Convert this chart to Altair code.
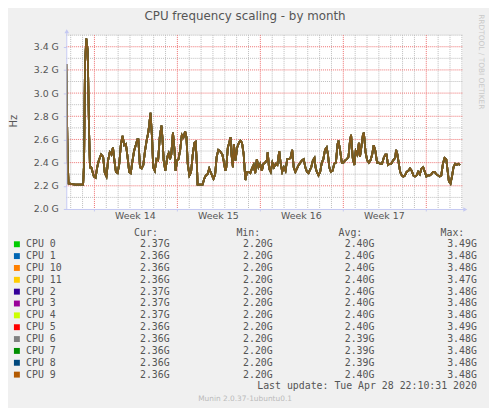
import altair as alt
import pandas as pd

# (day offset from left edge of graph, frequency in GHz)
readings = [
    (0.00, 3.25), (0.11, 2.45), (0.19, 2.22), (0.75, 2.21), (1.42, 2.21), (1.50, 2.39), (1.58, 3.25), (1.69, 3.47),
    (1.81, 3.36), (1.92, 2.68), (2.00, 2.36), (2.11, 2.36), (2.19, 2.33), (2.33, 2.28), (2.47, 2.27), (2.61, 2.36),
    (2.75, 2.42), (2.94, 2.47), (3.11, 2.45), (3.25, 2.31), (3.39, 2.28), (3.53, 2.42), (3.67, 2.49), (3.81, 2.47),
    (3.94, 2.53), (4.06, 2.42), (4.19, 2.32), (4.33, 2.31), (4.47, 2.39), (4.61, 2.56), (4.75, 2.63), (4.89, 2.55),
    (5.03, 2.56), (5.17, 2.45), (5.31, 2.32), (5.44, 2.31), (5.58, 2.41), (5.72, 2.50), (5.86, 2.55), (6.00, 2.60),
    (6.08, 2.60), (6.22, 2.36), (6.36, 2.35), (6.50, 2.38), (6.64, 2.50), (6.78, 2.59), (6.92, 2.66), (7.11, 2.83),
    (7.25, 2.59), (7.33, 2.36), (7.47, 2.33), (7.61, 2.43), (7.75, 2.42), (7.89, 2.62), (8.03, 2.72), (8.11, 2.62),
    (8.22, 2.42), (8.36, 2.33), (8.53, 2.45), (8.64, 2.48), (8.75, 2.43), (8.86, 2.47), (9.00, 2.66), (9.14, 2.50),
    (9.22, 2.33), (9.36, 2.42), (9.47, 2.43), (9.61, 2.51), (9.75, 2.64), (9.89, 2.62), (10.03, 2.67), (10.14, 2.62),
    (10.25, 2.39), (10.39, 2.29), (10.53, 2.32), (10.67, 2.47), (10.81, 2.57), (10.92, 2.58), (11.03, 2.36), (11.08, 2.21),
    (11.50, 2.21), (11.64, 2.26), (11.78, 2.29), (11.92, 2.30), (12.06, 2.35), (12.25, 2.30), (12.42, 2.26), (12.56, 2.30),
    (12.69, 2.45), (12.83, 2.51), (12.97, 2.50), (13.17, 2.47), (13.31, 2.40), (13.42, 2.33), (13.50, 2.36), (13.63, 2.53),
    (13.72, 2.56), (13.86, 2.62), (13.94, 2.47), (14.06, 2.36), (14.14, 2.56), (14.28, 2.42), (14.42, 2.53), (14.56, 2.57),
    (14.69, 2.59), (14.83, 2.57), (14.97, 2.47), (15.11, 2.25), (15.25, 2.32), (15.39, 2.32), (15.53, 2.31), (15.67, 2.35),
    (15.81, 2.38), (15.94, 2.31), (16.08, 2.43), (16.22, 2.36), (16.36, 2.39), (16.50, 2.33), (16.64, 2.39), (16.78, 2.40),
    (16.92, 2.42), (17.00, 2.49), (17.11, 2.35), (17.25, 2.32), (17.39, 2.40), (17.53, 2.36), (17.67, 2.39), (17.81, 2.38),
    (17.97, 2.50), (18.08, 2.40), (18.22, 2.32), (18.36, 2.36), (18.50, 2.33), (18.64, 2.43), (18.78, 2.43), (18.92, 2.44),
    (19.06, 2.51), (19.19, 2.36), (19.33, 2.32), (19.47, 2.35), (19.61, 2.38), (19.75, 2.40), (19.89, 2.42), (20.03, 2.43),
    (20.17, 2.36), (20.31, 2.32), (20.44, 2.31), (20.53, 2.33), (20.67, 2.36), (20.81, 2.42), (20.94, 2.44), (21.03, 2.36),
    (21.14, 2.32), (21.28, 2.29), (21.42, 2.32), (21.56, 2.40), (21.69, 2.43), (21.83, 2.51), (21.97, 2.53), (22.08, 2.47),
    (22.19, 2.36), (22.33, 2.32), (22.47, 2.33), (22.61, 2.39), (22.75, 2.40), (22.89, 2.56), (22.97, 2.59), (23.11, 2.50),
    (23.25, 2.40), (23.39, 2.40), (23.53, 2.42), (23.67, 2.43), (23.81, 2.45), (23.94, 2.59), (24.03, 2.64), (24.17, 2.44),
    (24.31, 2.38), (24.42, 2.50), (24.56, 2.47), (24.69, 2.57), (24.78, 2.45), (24.89, 2.53), (25.03, 2.64), (25.11, 2.66),
    (25.25, 2.49), (25.39, 2.42), (25.53, 2.40), (25.67, 2.42), (25.81, 2.47), (25.94, 2.55), (26.08, 2.50), (26.22, 2.40),
    (26.36, 2.40), (26.50, 2.39), (26.64, 2.39), (26.78, 2.44), (26.92, 2.47), (27.03, 2.47), (27.14, 2.38), (27.28, 2.39),
    (27.42, 2.39), (27.58, 2.42), (27.75, 2.44), (27.83, 2.51), (27.94, 2.47), (28.06, 2.39), (28.17, 2.32), (28.31, 2.29),
    (28.44, 2.28), (28.58, 2.29), (28.72, 2.32), (28.86, 2.33), (29.00, 2.35), (29.14, 2.33), (29.28, 2.29), (29.42, 2.28),
    (29.56, 2.29), (29.69, 2.32), (29.83, 2.30), (29.97, 2.35), (30.11, 2.36), (30.25, 2.32), (30.39, 2.28), (30.53, 2.29),
    (30.67, 2.29), (30.81, 2.30), (30.94, 2.32), (31.08, 2.32), (31.22, 2.30), (31.36, 2.29), (31.50, 2.28), (31.64, 2.29),
    (31.78, 2.39), (31.92, 2.44), (32.06, 2.43), (32.14, 2.36), (32.28, 2.24), (32.42, 2.22), (32.56, 2.29), (32.67, 2.36),
    (32.81, 2.39), (32.94, 2.38), (33.08, 2.39), (33.22, 2.38),
]

cpu_names = ["CPU 0", "CPU 1", "CPU 10", "CPU 11", "CPU 2", "CPU 3",
             "CPU 4", "CPU 5", "CPU 6", "CPU 7", "CPU 8", "CPU 9"]
cpu_colors = ["#00CC00", "#0066B3", "#FF8000", "#FFCC00", "#330099", "#990099",
              "#CCFF00", "#FF0000", "#808080", "#008F00", "#00487D", "#B35A00"]
cur_vals = ["2.37G", "2.36G", "2.36G", "2.36G", "2.37G", "2.37G",
            "2.37G", "2.36G", "2.36G", "2.36G", "2.36G", "2.36G"]
min_vals = ["2.20G"] * 12
avg_vals = ["2.40G", "2.40G", "2.40G", "2.40G", "2.40G", "2.40G",
            "2.40G", "2.40G", "2.39G", "2.39G", "2.39G", "2.40G"]
max_vals = ["3.49G", "3.48G", "3.48G", "3.47G", "3.48G", "3.48G",
            "3.48G", "3.49G", "3.48G", "3.48G", "3.48G", "3.48G"]

y_major = [2.0, 2.2, 2.4, 2.6, 2.8, 3.0, 3.2, 3.4]
y_minor = [2.1, 2.3, 2.5, 2.7, 2.9, 3.1, 3.3, 3.5]
week_lines = [7 * k + 7 / 3 for k in range(5)]
day_lines = [k + 1 / 3 for k in range(34) if (k - 2) % 7 != 0]
week_labels = ["Week 14", "Week 15", "Week 16", "Week 17"]
week_label_pos = [7 * k + 35 / 6 for k in range(4)]

title_text = "CPU frequency scaling - by month"
last_update = "Last update: Tue Apr 28 22:10:31 2020"
munin_ver = "Munin 2.0.37-1ubuntu0.1"
side_text = "RRDTOOL / TOBI OETIKER"

TXT = "#555555"
AXC = "#C4C8F2"
GRID_MINOR = "#BDBDBD"
GRID_MAJOR = "#EE7070"
xs = alt.Scale(domain=[0, 401 / 12], nice=False, zero=False)
ys = alt.Scale(domain=[2.0, 3.5], nice=False, zero=False)
X_AXIS = alt.Axis(values=week_lines, labels=False, title=None, grid=False, domain=False,
                  tickSize=2, tickColor=AXC)
Y_AXIS = alt.Axis(values=y_major, labelExpr="format(datum.value, '.1f') + ' G'", title=None,
                  grid=False, domain=False, tickSize=3, tickColor=AXC, labelPadding=5,
                  labelFont="DejaVu Sans", labelFontSize=9.5, labelColor=TXT)

def xenc(f):
    return alt.X(f, scale=xs, axis=X_AXIS)

def yenc(f):
    return alt.Y(f, scale=ys, axis=Y_AXIS)

vminor = alt.Chart(pd.DataFrame({"d": day_lines})).mark_rule(
    color=GRID_MINOR, strokeDash=[1, 1], strokeWidth=1, xOffset=0.5).encode(x=xenc("d:Q"))
hminor = alt.Chart(pd.DataFrame({"v": y_minor})).mark_rule(
    color=GRID_MINOR, strokeDash=[1, 1], strokeWidth=1).encode(y=yenc("v:Q"))
vmajor = alt.Chart(pd.DataFrame({"d": week_lines})).mark_rule(
    color=GRID_MAJOR, strokeDash=[1, 1], strokeWidth=1, xOffset=0.5).encode(x=xenc("d:Q"))
hmajor = alt.Chart(pd.DataFrame({"v": y_major[1:]})).mark_rule(
    color=GRID_MAJOR, strokeDash=[1, 1], strokeWidth=1).encode(y=yenc("v:Q"))

series = pd.DataFrame({"day": [r[0] for r in readings], "ghz": [r[1] for r in readings]})
lines = [
    alt.Chart(series).mark_line(color=c, strokeWidth=1.8, strokeOpacity=0.7, clip=True).encode(
        x=xenc("day:Q"), y=yenc("ghz:Q"))
    for c in cpu_colors
]

yaxis_line = alt.Chart().mark_rule(color=AXC).encode(
    x=alt.value(0.5), y=alt.value(-4), y2=alt.value(176))
xaxis_line = alt.Chart().mark_rule(color=AXC).encode(
    x=alt.value(-2), x2=alt.value(404), y=alt.value(176.5))
yarrow = alt.Chart().mark_point(shape="triangle-up", filled=True, color=AXC, size=22, opacity=1).encode(
    x=alt.value(0.5), y=alt.value(-4))
xarrow = alt.Chart().mark_point(shape="triangle-right", filled=True, color=AXC, size=22, opacity=1).encode(
    x=alt.value(404), y=alt.value(176.5))

weeks = alt.Chart(pd.DataFrame({"d": week_label_pos, "t": week_labels})).mark_text(
    font="DejaVu Sans", fontSize=9.5, color=TXT, baseline="middle", align="center").encode(
    x=xenc("d:Q"), y=alt.value(183), text="t:N")

def label(text, x, y, **kw):
    return alt.Chart().mark_text(text=text, **kw).encode(x=alt.value(x), y=alt.value(y))

title = label(title_text, 181, -19, font="DejaVu Sans", fontSize=12, color=TXT, align="center", baseline="middle")
hz = label("Hz", -53, 87, font="DejaVu Sans", fontSize=10, color=TXT, align="center", baseline="middle", angle=270)
side = label(side_text, 420, 27, font="DejaVu Sans", fontSize=7.5, color="#C8C8C8", align="center", baseline="middle", angle=90)

MONO = dict(font="DejaVu Sans Mono", fontSize=10, color=TXT, baseline="middle")
headers = [
    label("Cur:", 92.7, 200.3, align="right", **MONO),
    label("Min:", 196.3, 200.3, align="right", **MONO),
    label("Avg:", 299.7, 200.3, align="right", **MONO),
    label("Max:", 403, 200.3, align="right", **MONO),
]
upd = label(last_update, 415.7, 355.3, align="right", **MONO)
ver = label(munin_ver, 181, 368.7, font="DejaVu Sans", fontSize=7.5, color="#BBBBBB", align="center", baseline="middle")

main = alt.layer(vminor, hminor, vmajor, hmajor, *lines, yaxis_line, xaxis_line, yarrow, xarrow,
                 weeks, title, hz, side, *headers, upd, ver)

leg_df = pd.DataFrame({"row": list(range(12)), "name": cpu_names, "cur": cur_vals,
                       "min": min_vals, "avg": avg_vals, "max": max_vals})
rowy = alt.Y("row:Q", scale=alt.Scale(domain=[0, 11], range=[211.7, 343.7]), axis=None)
leg_base = alt.Chart(leg_df)
squares = leg_base.mark_square(size=36, filled=True, opacity=1).encode(
    x=alt.value(-50), y=rowy,
    color=alt.Color("name:N", scale=alt.Scale(domain=cpu_names, range=cpu_colors), legend=None))
names = leg_base.mark_text(align="left", **MONO).encode(x=alt.value(-40.7), y=rowy, text="name:N")
cols = [leg_base.mark_text(align="right", **MONO).encode(x=alt.value(xp), y=rowy, text=f"{f}:N")
        for f, xp in [("cur", 104.7), ("min", 209), ("avg", 312), ("max", 415.7)]]
legend = alt.layer(squares, names, *cols)

chart = alt.layer(main, legend).resolve_scale(y="independent").properties(
    width=401, height=176, background="#F0F0F0",
    padding={"left": 59, "top": 25, "right": 27, "bottom": 199},
    autosize=alt.AutoSizeParams(type="none"),
).configure_view(fill="white", stroke=None)

chart.save("out.html", embed_options={"renderer": "svg", "actions": False})
